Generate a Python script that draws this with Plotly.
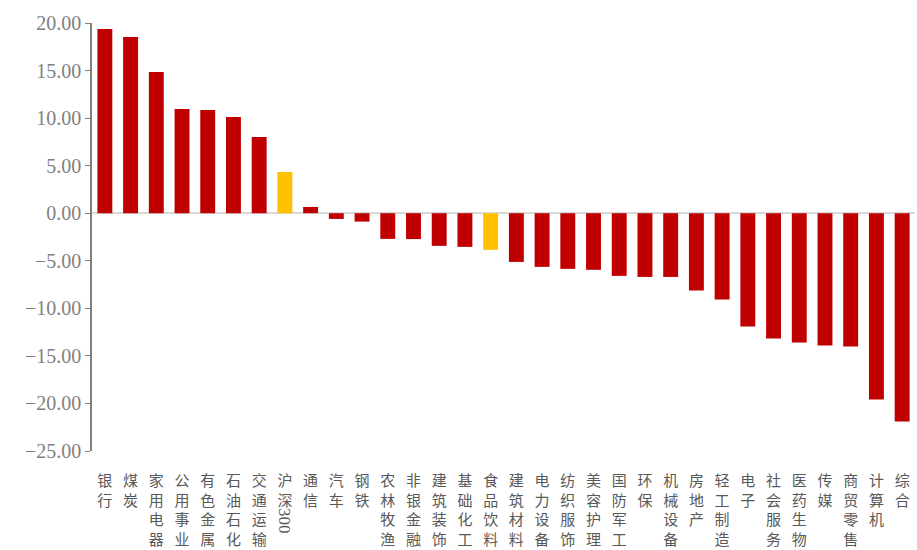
import plotly.graph_objects as go

# 行业涨跌幅（%）
categories = ["银行", "煤炭", "家用电器", "公用事业", "有色金属", "石油石化", "交通运输", "沪深300",
              "通信", "汽车", "钢铁", "农林牧渔", "非银金融", "建筑装饰", "基础化工", "食品饮料",
              "建筑材料", "电力设备", "纺织服饰", "美容护理", "国防军工", "环保", "机械设备", "房地产",
              "轻工制造", "电子", "社会服务", "医药生物", "传媒", "商贸零售", "计算机", "综合"]
values = [19.36, 18.52, 14.84, 10.96, 10.85, 10.11, 8.01, 4.34,
          0.66, -0.60, -0.88, -2.70, -2.72, -3.43, -3.54, -3.85,
          -5.12, -5.64, -5.85, -5.95, -6.59, -6.70, -6.70, -8.13,
          -9.07, -11.90, -13.17, -13.59, -13.90, -14.00, -19.58, -21.89]
highlight = {"沪深300", "食品饮料"}

y_ticks = [20, 15, 10, 5, 0, -5, -10, -15, -20, -25]

RED = "#C00000"
GOLD = "#FFC000"
colors = [GOLD if c in highlight else RED for c in categories]


def stacked(label):
    # one character per line; the digits of "300" are drawn separately, rotated
    if label.endswith("300"):
        label = label[:-3]
    return "<br>".join(label)


fig = go.Figure(go.Bar(
    x=categories,
    y=values,
    marker=dict(color=colors, line=dict(width=0)),
    hoverinfo="x+y",
))

fig.add_annotation(
    x="沪深300", y=0, xref="x", yref="paper",
    text="300", textangle=90, showarrow=False,
    yanchor="top", yshift=-55,
    font=dict(family="Liberation Serif", size=17, color="#595959"),
)

fig.update_layout(
    width=917, height=550,
    margin=dict(l=92, r=2, t=23, b=99),
    paper_bgcolor="white", plot_bgcolor="white",
    bargap=0.42,
    showlegend=False,
    xaxis=dict(
        tickmode="array",
        tickvals=categories,
        ticktext=[stacked(c) for c in categories],
        tickangle=0,
        showline=False, showgrid=False, zeroline=False,
        ticks="outside", ticklen=16, tickcolor="rgba(0,0,0,0)",
        tickfont=dict(family="Noto Sans CJK SC", size=15, color="#595959"),
        fixedrange=True,
    ),
    yaxis=dict(
        range=[-25, 20],
        tickmode="array",
        tickvals=y_ticks,
        tickformat=".2f",
        showgrid=False,
        zeroline=True, zerolinecolor="#D9D9D9", zerolinewidth=2,
        showline=True, linecolor="#7F7F7F", linewidth=1.5,
        ticks="outside", ticklen=5, tickcolor="#7F7F7F", tickwidth=1,
        tickfont=dict(family="Liberation Serif", size=20, color="#7F7F7F"),
        fixedrange=True,
    ),
)

fig.write_html("out.html")
